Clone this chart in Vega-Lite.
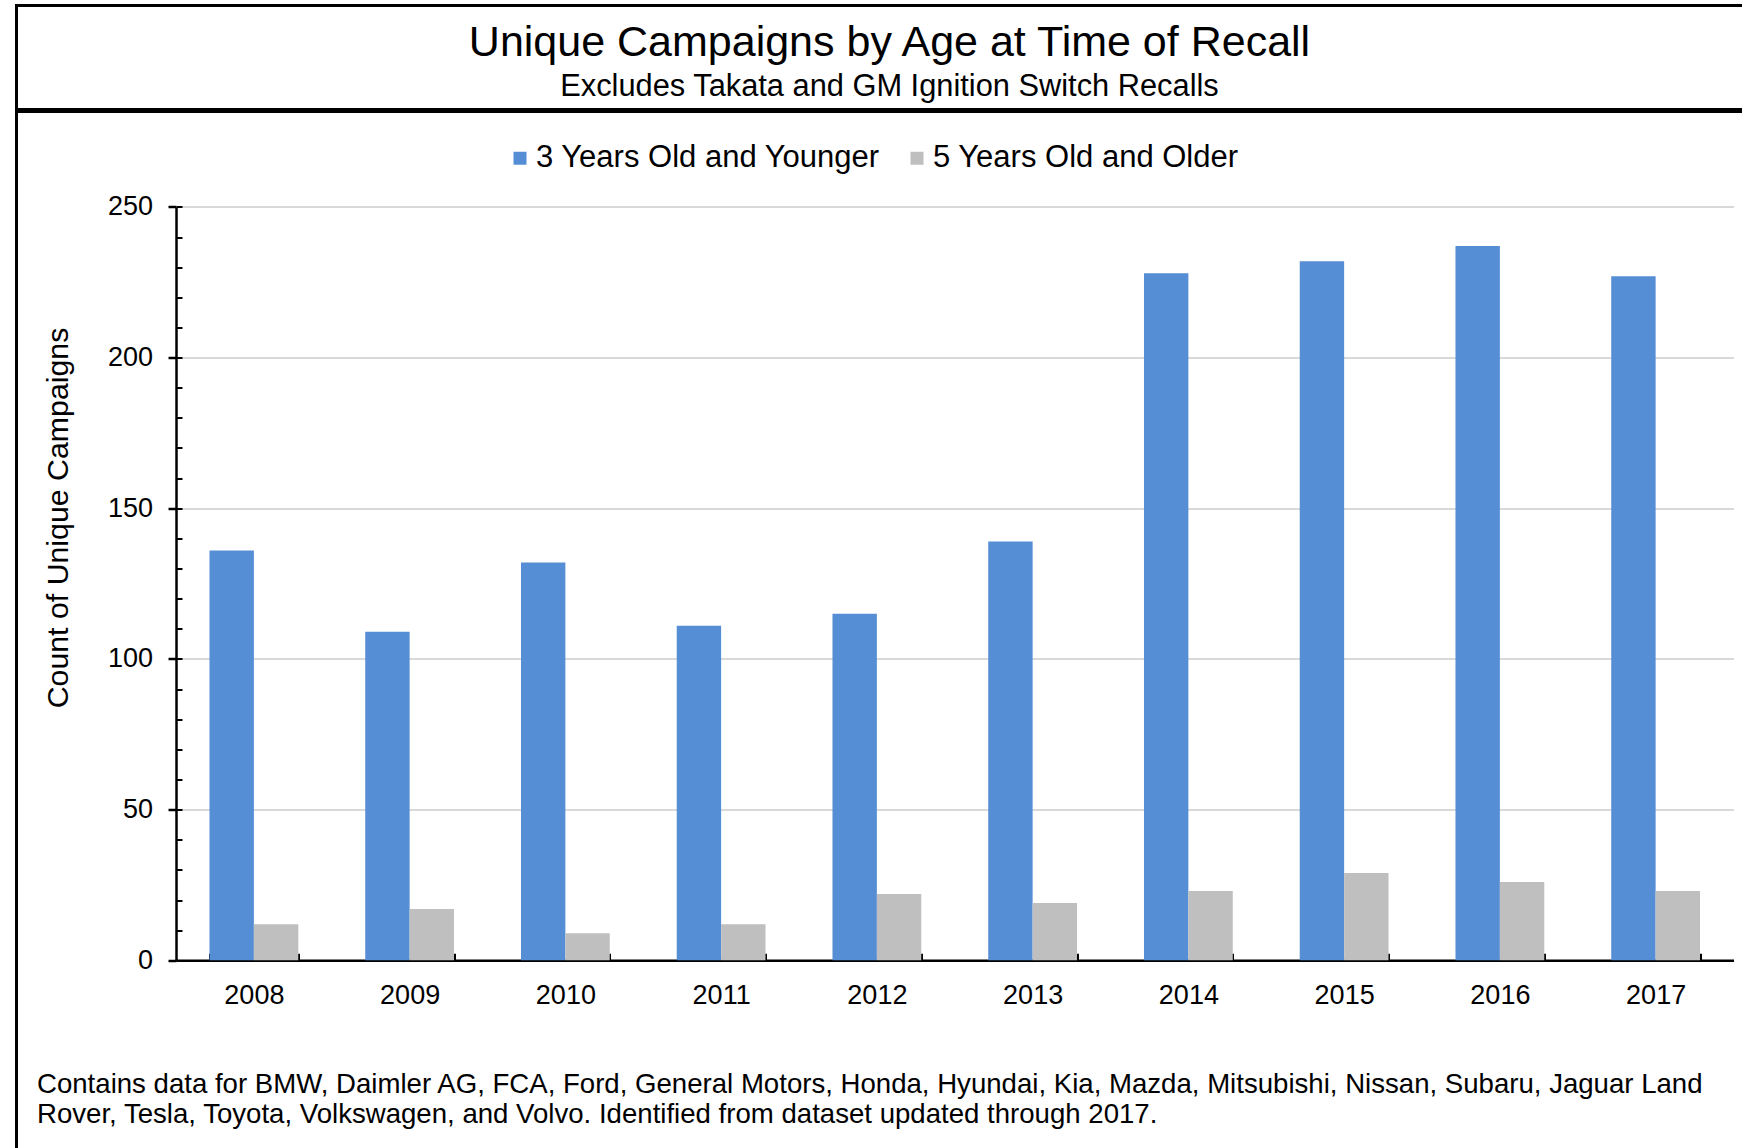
{
  "$schema": "https://vega.github.io/schema/vega-lite/v6.json",
  "background": "white",
  "padding": {"left": 14.5, "top": 3.5, "right": 0, "bottom": 0},
  "spacing": -3,
  "config": {
    "font": "Liberation Sans",
    "view": {"stroke": "black", "strokeWidth": 3},
    "axis": {
      "labelColor": "black",
      "titleColor": "black",
      "labelFont": "Liberation Sans",
      "titleFont": "Liberation Sans",
      "titleFontWeight": "normal"
    },
    "legend": {
      "labelColor": "black",
      "labelFont": "Liberation Sans",
      "padding": 0
    },
    "title": {
      "font": "Liberation Sans",
      "subtitleFont": "Liberation Sans",
      "color": "black",
      "subtitleColor": "black",
      "fontWeight": "normal"
    }
  },
  "vconcat": [
    {
      "width": 1760,
      "height": 104,
      "view": {"stroke": "black", "strokeWidth": 3, "fill": "white"},
      "title": {
        "text": "Unique Campaigns by Age at Time of Recall",
        "subtitle": "Excludes Takata and GM Ignition Switch Recalls",
        "anchor": "middle",
        "frame": "group",
        "fontSize": 43,
        "subtitleFontSize": 30.8,
        "subtitlePadding": 7,
        "offset": -96.5,
        "dx": -7
      },
      "data": {"values": [{}]},
      "mark": {"type": "text"}
    },
    {
      "width": 1760,
      "height": 1050,
      "data": {
        "values": [
          {"year": "2008", "age": "3 Years Old and Younger", "campaigns": 136},
          {"year": "2008", "age": "5 Years Old and Older", "campaigns": 12},
          {"year": "2009", "age": "3 Years Old and Younger", "campaigns": 109},
          {"year": "2009", "age": "5 Years Old and Older", "campaigns": 17},
          {"year": "2010", "age": "3 Years Old and Younger", "campaigns": 132},
          {"year": "2010", "age": "5 Years Old and Older", "campaigns": 9},
          {"year": "2011", "age": "3 Years Old and Younger", "campaigns": 111},
          {"year": "2011", "age": "5 Years Old and Older", "campaigns": 12},
          {"year": "2012", "age": "3 Years Old and Younger", "campaigns": 115},
          {"year": "2012", "age": "5 Years Old and Older", "campaigns": 22},
          {"year": "2013", "age": "3 Years Old and Younger", "campaigns": 139},
          {"year": "2013", "age": "5 Years Old and Older", "campaigns": 19},
          {"year": "2014", "age": "3 Years Old and Younger", "campaigns": 228},
          {"year": "2014", "age": "5 Years Old and Older", "campaigns": 23},
          {"year": "2015", "age": "3 Years Old and Younger", "campaigns": 232},
          {"year": "2015", "age": "5 Years Old and Older", "campaigns": 29},
          {"year": "2016", "age": "3 Years Old and Younger", "campaigns": 237},
          {"year": "2016", "age": "5 Years Old and Older", "campaigns": 26},
          {"year": "2017", "age": "3 Years Old and Younger", "campaigns": 227},
          {"year": "2017", "age": "5 Years Old and Older", "campaigns": 23}
        ]
      },
      "layer": [
        {
          "mark": {"type": "bar"},
          "encoding": {
            "x": {
              "field": "year",
              "type": "ordinal",
              "scale": {"range": [159.5, 1717], "paddingInner": 0.43, "paddingOuter": 0.215},
              "axis": {
                "orient": "bottom",
                "offset": -201.2,
                "domainColor": "black",
                "domainWidth": 2.5,
                "tickColor": "black",
                "tickWidth": 2,
                "tickSize": -7,
                "tickBand": "extent",
                "labelAngle": 0,
                "labelFontSize": 27,
                "labelBaseline": "alphabetic",
                "labelPadding": 50,
                "grid": false,
                "title": [
                  "Contains data for BMW, Daimler AG, FCA, Ford, General Motors, Honda, Hyundai,  Kia, Mazda, Mitsubishi, Nissan, Subaru, Jaguar Land",
                  "Rover, Tesla, Toyota, Volkswagen, and Volvo. Identified from dataset updated through 2017."
                ],
                "titleFontSize": 27.6,
                "titleX": 20,
                "titleY": 132,
                "titleAlign": "left",
                "titleBaseline": "alphabetic",
                "titleLineHeight": 30
              }
            },
            "xOffset": {
              "field": "age",
              "type": "nominal",
              "sort": ["3 Years Old and Younger", "5 Years Old and Older"],
              "scale": {"paddingInner": 0, "paddingOuter": 0}
            },
            "y": {
              "field": "campaigns",
              "type": "quantitative",
              "scale": {"domain": [0, 250], "range": [848.8, 95.4], "nice": false},
              "axis": {
                "orient": "left",
                "offset": -159.5,
                "values": [0, 50, 100, 150, 200, 250],
                "domainColor": "black",
                "domainWidth": 2.5,
                "tickColor": "black",
                "tickWidth": 2.5,
                "tickSize": 8,
                "labelFontSize": 27,
                "labelPadding": 15.5,
                "grid": true,
                "gridColor": "#d9d9d9",
                "gridWidth": 2,
                "title": "Count of Unique Campaigns",
                "titleFontSize": 30.3,
                "titleX": -117.5,
                "titleY": 406,
                "titleBaseline": "middle",
                "titleAlign": "center",
                "titleAngle": 270
              }
            },
            "color": {
              "field": "age",
              "type": "nominal",
              "scale": {
                "domain": ["3 Years Old and Younger", "5 Years Old and Older"],
                "range": ["#558ed5", "#bfbfbf"]
              },
              "legend": {
                "orient": "none",
                "legendX": 488,
                "legendY": 137,
                "direction": "horizontal",
                "title": null,
                "symbolType": "square",
                "symbolSize": 169,
                "symbolStrokeWidth": 0,
                "labelFontSize": 31,
                "labelLimit": 0,
                "labelOffset": 0.5,
                "columnPadding": 21
              }
            }
          }
        },
        {
          "mark": {"type": "bar", "opacity": 0},
          "encoding": {
            "x": {"field": "year", "type": "ordinal", "axis": null},
            "y": {
              "field": "campaigns",
              "type": "quantitative",
              "axis": {
                "orient": "left",
                "offset": -159.5,
                "values": [0, 10, 20, 30, 40, 50, 60, 70, 80, 90, 100, 110, 120, 130, 140, 150, 160, 170, 180, 190, 200, 210, 220, 230, 240, 250],
                "domain": false,
                "grid": false,
                "labels": false,
                "tickColor": "black",
                "tickWidth": 2,
                "tickSize": -6,
                "title": null
              }
            }
          }
        }
      ],
      "resolve": {"axis": {"x": "independent", "y": "independent"}}
    }
  ]
}
